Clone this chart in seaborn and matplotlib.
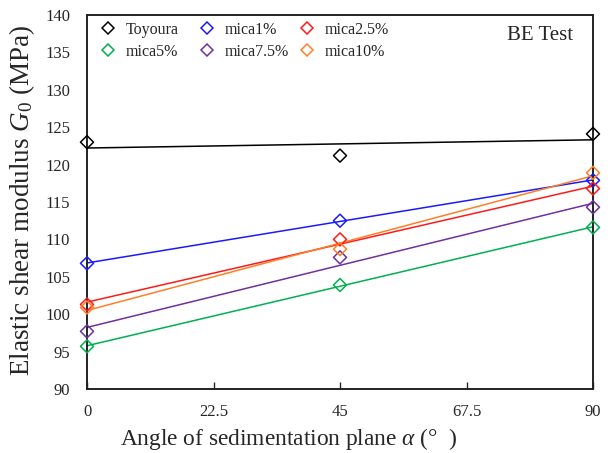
import numpy as np
import pandas as pd
import matplotlib
matplotlib.use("Agg")
import matplotlib.pyplot as plt
import seaborn as sns
from matplotlib.lines import Line2D

angles = [0, 45, 90]
series_names = ["Toyoura", "mica1%", "mica2.5%", "mica5%", "mica7.5%", "mica10%"]
toyoura = [123.0, 121.2, 124.1]
mica1 = [106.8, 112.5, 117.9]
mica2_5 = [101.3, 110.0, 116.8]
mica5 = [95.7, 103.9, 111.6]
mica7_5 = [97.7, 107.6, 114.3]
mica10 = [100.9, 108.7, 118.9]
colors = ["#000000", "#1a1aff", "#ff1a1a", "#00b050", "#7030a0", "#ff7f27"]
xticks = [0, 22.5, 45, 67.5, 90]
xticklabels = ["0", "22.5", "45", "67.5", "90"]
yticks = list(range(90, 141, 5))

values = [toyoura, mica1, mica2_5, mica5, mica7_5, mica10]
df = pd.DataFrame({
    "angle": angles * len(series_names),
    "G0": sum(values, []),
    "series": sum([[n] * len(angles) for n in series_names], []),
})

sns.set_style("ticks")
plt.rcParams["font.family"] = ["Liberation Serif", "DejaVu Serif"]
plt.rcParams["mathtext.fontset"] = "custom"
plt.rcParams["mathtext.rm"] = "Liberation Serif"
plt.rcParams["mathtext.it"] = "Liberation Serif:italic"

fig = plt.figure(figsize=(6.14, 4.53), dpi=100)
ax = fig.add_axes([87 / 614, 1 - 389 / 453, (593 - 87) / 614, (389 - 15) / 453])

for name, c in zip(series_names, colors):
    sub = df[df["series"] == name]
    sns.regplot(data=sub, x="angle", y="G0", ax=ax, ci=None, scatter=False,
                color=c, line_kws={"lw": 1.1})
sns.scatterplot(data=df, x="angle", y="G0", hue="series", palette=colors,
                hue_order=series_names, marker="D", s=44,
                ax=ax, legend=False, zorder=5, linewidth=1.1, clip_on=False)
for coll in ax.collections:
    fc = coll.get_facecolors()
    if len(fc):
        coll.set_edgecolors(fc)
        coll.set_facecolors("none")
        coll.set_clip_on(False)

ax.set_xlim(0, 90)
ax.set_ylim(90, 140)
ax.set_xticks(xticks)
ax.set_xticklabels(xticklabels)
ax.set_yticks(yticks)
ax.tick_params(axis="x", direction="in", labelsize=12, length=5, width=1, pad=11)
ax.tick_params(axis="y", direction="in", labelsize=12, length=0, pad=12)
for s in ax.spines.values():
    s.set_linewidth(1.4)
    s.set_color("#222222")

ax.set_xlabel(r"Angle of sedimentation plane $\mathit{\alpha}$ (°  )", fontsize=16.8, ha="left")
ax.xaxis.set_label_coords((120 - 87) / 506, (389 - 426) / 374)
ax.set_ylabel(r"Elastic shear modulus $\mathit{G}_0$ (MPa)", fontsize=19.5)
ax.yaxis.set_label_coords((37 - 87) / 506, 0.505)

# legend: three columns, each its own legend so columns are evenly spaced
col_x = [100, 199, 299]
columns = [[0, 3], [1, 4], [2, 5]]
legends = []
for cx, idx in zip(col_x, columns):
    handles = [Line2D([], [], ls="none", marker="D", markersize=6.6, markerfacecolor="none",
                      markeredgecolor=colors[i], markeredgewidth=1.1) for i in idx]
    labels = [series_names[i] for i in idx]
    leg = ax.legend(handles, labels, loc="upper left", frameon=False,
                    fontsize=11.5, handlelength=1.0, handletextpad=0.62,
                    labelspacing=0.37, borderpad=0, borderaxespad=0,
                    bbox_to_anchor=((cx - 87) / 506, (389 - 22) / 374))
    legends.append(leg)
for leg in legends[:-1]:
    ax.add_artist(leg)

ax.text((573 - 87) / 506, (389 - 35) / 374, "BE Test", transform=ax.transAxes,
        ha="right", va="center", fontsize=15)

fig.savefig("out.png", dpi=100)
